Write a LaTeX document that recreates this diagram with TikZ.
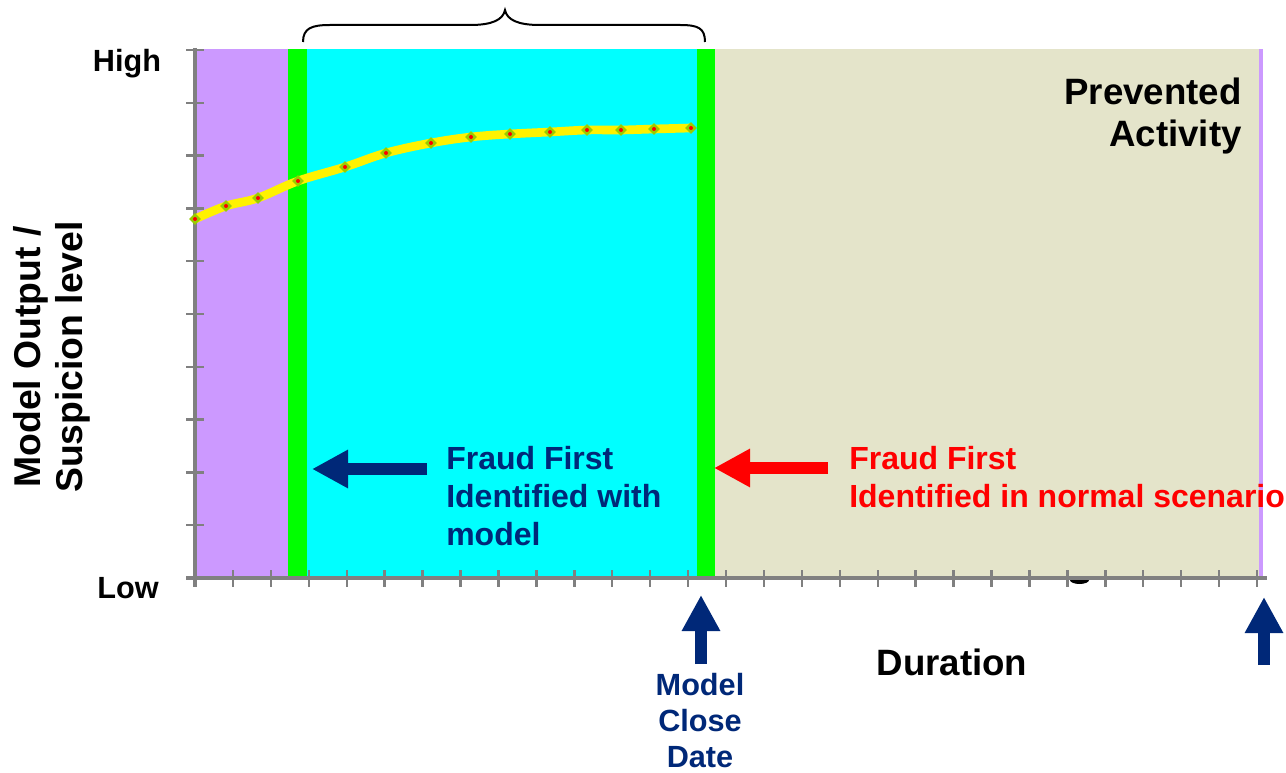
\documentclass[tikz,border=0pt]{standalone}
\usepackage{fontspec}
\setmainfont{Liberation Sans}
\usetikzlibrary{arrows.meta,positioning,shapes.geometric}
\definecolor{lilac}{RGB}{204,153,255}
\definecolor{lime}{RGB}{0,255,0}
\definecolor{aqua}{RGB}{0,255,255}
\definecolor{sand}{RGB}{228,228,202}
\definecolor{navy}{RGB}{0,40,120}
\definecolor{axisgray}{RGB}{128,128,128}
\definecolor{mkgreen}{RGB}{153,204,0}

\begin{document}
\begin{tikzpicture}[x=0.75pt,y=-0.75pt,
    axis/.style={axisgray,line width=2.4pt},
    tick/.style={axisgray,line width=1.8pt},
    trend/.style={yellow,line width=6.5pt},
    dot/.style={diamond,fill=mkgreen,inner sep=0pt,minimum size=9pt,
      path picture={\fill[red] (path picture bounding box.center) circle (1.5pt);}},
    bigtxt/.style={font=\fontsize{23pt}{27pt}\selectfont\bfseries,inner sep=0pt},
    midtxt/.style={font=\fontsize{24pt}{28.5pt}\selectfont\bfseries,inner sep=0pt,align=left},
    blockarrow/.style={line width=9pt,-{Triangle[width=27pt,length=27pt]}},
    brace/.style={black,line width=1.5pt}]
  \useasboundingbox (0,0) rectangle (1286,773);

  % bands
  \fill[lilac] (195,49) rectangle (288,578);
  \fill[lime] (288,49) rectangle (307,578);
  \fill[aqua] (307,49) rectangle (697,578);
  \fill[lime] (697,49) rectangle (715,580);
  \fill[sand] (715,49) rectangle (1259,578);
  \fill[lilac] (1259,49) rectangle (1263,578);

  % axes
  \draw[axis] (195,48) -- (195,587);
  \draw[axis] (186,578) -- (1267,578);
  \foreach \i in {0,...,10}
    \draw[tick] (186,{50+52.8*\i}) -- (204,{50+52.8*\i});
  \foreach \i in {0,...,28}
    \draw[tick] ({195+37.93*\i},570) -- ({195+37.93*\i},587);
  \fill (1070,580) -- (1089,580) arc[start angle=0,end angle=180,x radius=9.5,y radius=4] -- cycle;

  % model output
  \draw[trend] plot[smooth,tension=0.6] coordinates {(195,219) (226,206) (258,198) (298,181) (345,167)
    (386,153) (431,143) (471,137) (510,134) (550,132) (587,130) (621,130) (654,129) (691,128)};
  \foreach \p in {(195,219),(226,206),(258,198),(298,181),(345,167),(386,153),(431,143),
    (471,137),(510,134),(550,132),(587,130),(621,130),(654,129),(691,128)}
    \node[dot] at \p {};

  % brace
  \draw[brace] (303,42) .. controls (303,28) and (312,25) .. (330,25) -- (470,25)
    .. controls (492,25) and (503,20) .. (505,10)
    .. controls (507,20) and (518,25) .. (540,25) -- (680,25)
    .. controls (698,25) and (705,28) .. (705,42);

  % labels
  \node[bigtxt] (high) at (127,64) {High};
  \node[bigtxt] (low) at (128,588) {Low};
  \node[bigtxt,rotate=90,align=center,font=\fontsize{28pt}{32pt}\selectfont\bfseries] (ylabel) at (52,357)
    {Model Output /\\Suspicion level};
  \node[bigtxt,align=right,anchor=east,font=\fontsize{27.5pt}{32pt}\selectfont\bfseries] (prevented) at (1242,116)
    {Prevented\\Activity};
  \node[bigtxt,font=\fontsize{27.5pt}{32pt}\selectfont\bfseries] (duration) at (952,662) {Duration};
  \node[midtxt,text=navy,anchor=north west] (withmodel) at (446,446)
    {Fraud First\\Identified with\\model};
  \node[midtxt,text=red,anchor=north west] (normal) at (849,446)
    {Fraud First\\Identified in normal scenario};
  \node[bigtxt,text=navy,align=center,anchor=north] (closedate) at (700,673)
    {Model\\Close\\Date};

  % arrows
  \coordinate (bluetail) at (427,469);
  \coordinate (bluetip) at (312,469);
  \coordinate (redtail) at (828,468);
  \coordinate (redtip) at (714,468);
  \coordinate (closetail) at (701,664);
  \coordinate (closetip) at (701,595);
  \coordinate (endtail) at (1264,665);
  \coordinate (endtip) at (1264,597);
  \draw[blockarrow,navy] (bluetail) -- (bluetip);
  \draw[blockarrow,red] (redtail) -- (redtip);
  \draw[blockarrow,navy] (closetail) -- (closetip);
  \draw[blockarrow,navy] (endtail) -- (endtip);
\end{tikzpicture}
\end{document}
